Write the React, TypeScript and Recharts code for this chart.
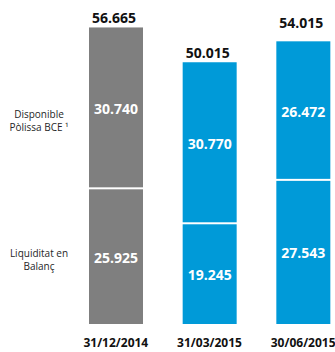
import { BarChart, Bar, XAxis, YAxis, Cell, LabelList } from "recharts";

const dates = ["31/12/2014", "31/03/2015", "30/06/2015"];
const balanceLiquidity = [25.925, 19.245, 27.543];
const ecbPolicy = [30.74, 30.77, 26.472];
const totals = [56.665, 50.015, 54.015];
const seriesNames = [["Disponible", "Pòlissa BCE ¹"], ["Liquiditat en", "Balanç"]];

const barColors = ["#7f7f7f", "#009ad8", "#009ad8"];
const totalLift = [0, 0, 9];

const data = dates.map((date, i) => ({
  date,
  balance: balanceLiquidity[i],
  ecb: ecbPolicy[i],
  total: totals[i],
}));

const fmt = (v: number) => v.toFixed(3);
const font = "'Open Sans', 'DejaVu Sans', sans-serif";

const LowerShape = (props: any) => {
  const { x, y, width, height, fill } = props;
  return <rect x={x} y={y + 1} width={width} height={Math.max(height - 1, 0)} fill={fill} />;
};

const UpperShape = (props: any) => {
  const { x, y, width, height, fill } = props;
  return <rect x={x} y={y} width={width} height={Math.max(height - 1, 0)} fill={fill} />;
};

const TotalLabel = (props: any) => {
  const { x, y, width, index } = props;
  return (
    <text
      x={x + width / 2 - 2}
      y={y - 10 - totalLift[index]}
      textAnchor="middle"
      dominantBaseline="central"
      fontFamily={font}
      fontWeight={700}
      fontSize={14}
      fill="#111"
    >
      {fmt(totals[index])}
    </text>
  );
};

const InnerLabel = (props: any) => {
  const { x, y, width, height, value } = props;
  return (
    <text
      x={x + width / 2}
      y={y + height / 2 + 1}
      textAnchor="middle"
      dominantBaseline="central"
      fontFamily={font}
      fontWeight={700}
      fontSize={14}
      fill="#fff"
    >
      {fmt(value)}
    </text>
  );
};

const sideLabel: React.CSSProperties = {
  position: "absolute",
  left: 0,
  width: 78,
  textAlign: "center",
  fontFamily: font,
  fontSize: 10,
  lineHeight: "13px",
  color: "#262626",
  whiteSpace: "nowrap",
};

export default function App() {
  return (
    <div style={{ position: "absolute", left: 0, top: 0, width: 335, height: 352, overflow: "hidden", background: "#fff" }}>
      <BarChart
        width={350}
        height={352}
        data={data}
        barSize={54}
        margin={{ top: 10, right: 0, bottom: 0, left: 69 }}
      >
        <YAxis hide domain={[0, 60]} />
        <XAxis
          dataKey="date"
          axisLine={false}
          tickLine={false}
          height={28}
          interval={0}
          tick={{ fontFamily: font, fontWeight: 700, fontSize: 12, fill: "#111", dy: 6 }}
        />
        <Bar dataKey="balance" stackId="a" isAnimationActive={false} shape={<LowerShape />}>
          {data.map((_, i) => (
            <Cell key={i} fill={barColors[i]} />
          ))}
          <LabelList dataKey="balance" content={<InnerLabel />} />
        </Bar>
        <Bar dataKey="ecb" stackId="a" isAnimationActive={false} shape={<UpperShape />}>
          {data.map((_, i) => (
            <Cell key={i} fill={barColors[i]} />
          ))}
          <LabelList dataKey="ecb" content={<InnerLabel />} />
          <LabelList dataKey="total" content={<TotalLabel />} />
        </Bar>
      </BarChart>
      <div style={{ ...sideLabel, top: 108 }}>
        {seriesNames[0][0]}
        <br />
        {seriesNames[0][1]}
      </div>
      <div style={{ ...sideLabel, top: 247 }}>
        {seriesNames[1][0]}
        <br />
        {seriesNames[1][1]}
      </div>
    </div>
  );
}
